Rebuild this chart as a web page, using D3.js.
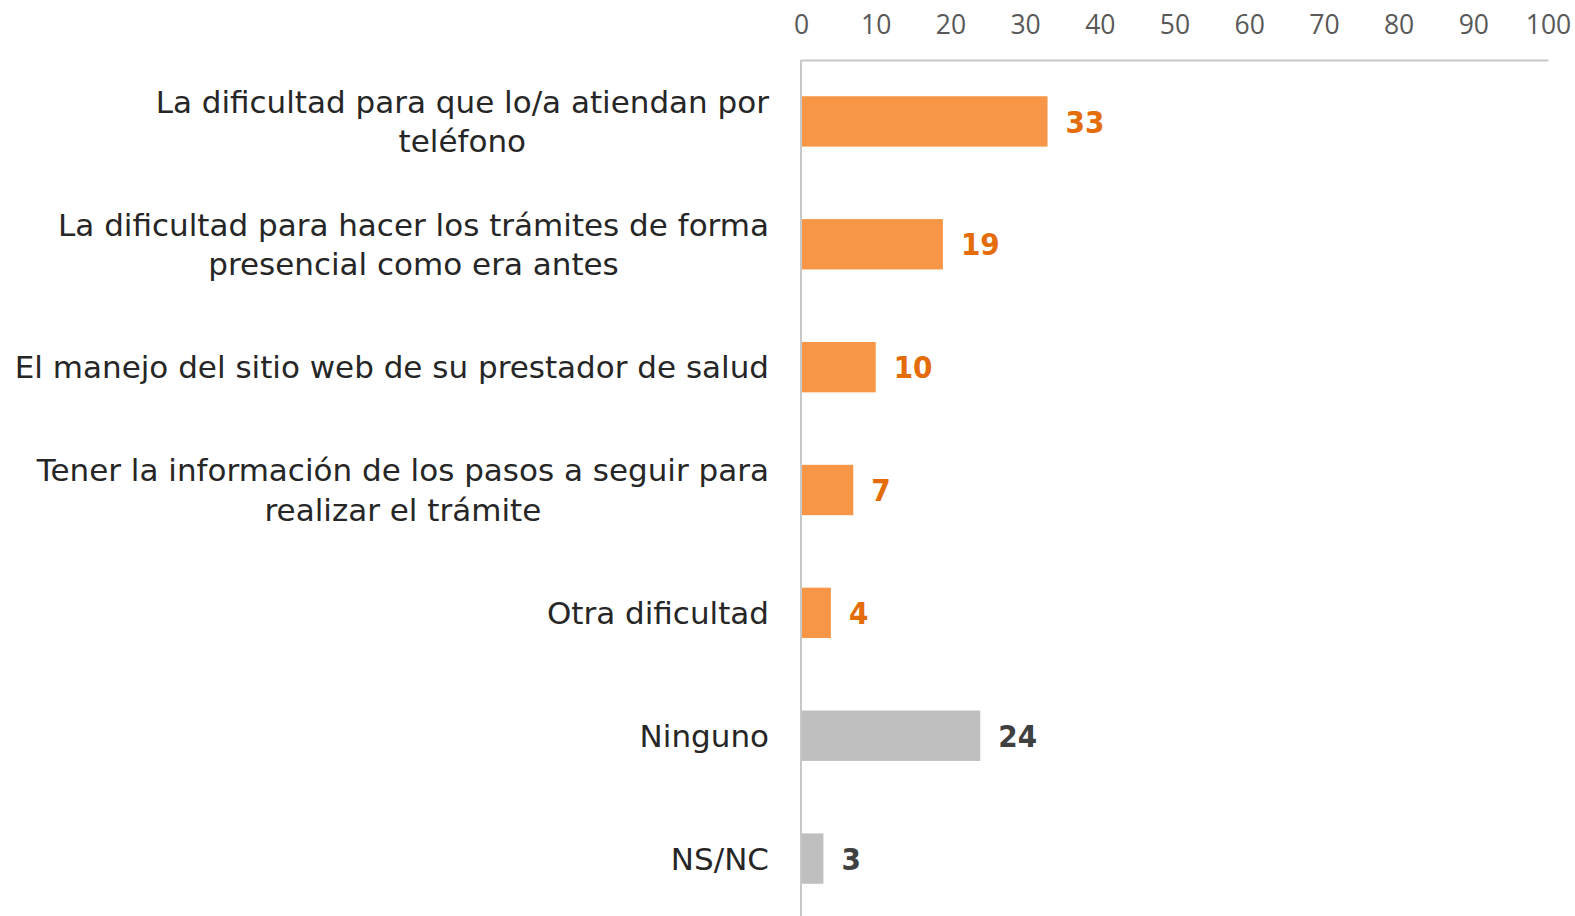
<!DOCTYPE html>
<meta charset="utf-8">
<head>
  <title>Dificultades</title>
  <script src="https://d3js.org/d3.v7.min.js"></script>
  <style>
    body { margin: 0; background: #fff; }
    text { font-family: "DejaVu Sans Condensed", "DejaVu Sans", sans-serif; }
  </style>
</head>
<body>
  <svg id="chart" width="1575" height="916"></svg>
  <script>
    const categories = [
      ["La dificultad para que lo/a atiendan por", "teléfono"],
      ["La dificultad para hacer los trámites de forma", "presencial como era antes"],
      ["El manejo del sitio web de su prestador de salud"],
      ["Tener la información de los pasos a seguir para", "realizar el trámite"],
      ["Otra dificultad"],
      ["Ninguno"],
      ["NS/NC"]
    ];
    const values = [33, 19, 10, 7, 4, 24, 3];
    const isGray = [false, false, false, false, false, true, true];
    const xTicks = [0, 10, 20, 30, 40, 50, 60, 70, 80, 90, 100];

    const svg = d3.select("#chart");
    const plotLeft = 801, plotRight = 1548, plotTop = 60, plotBottom = 920;

    const x = d3.scaleLinear().domain([0, 100]).range([plotLeft, plotRight]);
    const y = d3.scaleBand().domain(d3.range(values.length)).range([plotTop, plotBottom]).paddingInner(0.59).paddingOuter(0.295);

    // top axis
    const xAxis = svg.append("g")
      .attr("transform", "translate(0," + plotTop + ")")
      .call(d3.axisTop(x).tickValues(xTicks).tickSize(0).tickPadding(26));
    xAxis.select(".domain").attr("stroke", "#c8c8c8").attr("stroke-width", 2);
    xAxis.selectAll("text")
      .attr("font-size", 26.5)
      .attr("fill", "#595959")
      .style("font-family", "'Open Sans', sans-serif");

    // left axis line
    svg.append("line")
      .attr("x1", plotLeft).attr("x2", plotLeft)
      .attr("y1", plotTop).attr("y2", 916)
      .attr("stroke", "#c8c8c8").attr("stroke-width", 2);

    svg.append("g").selectAll("rect")
      .data(values)
      .join("rect")
        .attr("x", plotLeft + 1)
        .attr("y", (d, i) => y(i))
        .attr("width", d => x(d) - plotLeft - 1)
        .attr("height", y.bandwidth())
        .attr("fill", (d, i) => isGray[i] ? "#bfbfbf" : "#f79646");

    svg.append("g").selectAll("text")
      .data(values)
      .join("text")
        .attr("x", d => x(d) + 18)
        .attr("y", (d, i) => y(i) + y.bandwidth() / 2)
        .attr("dy", "0.36em")
        .attr("font-size", 31)
        .attr("font-weight", "bold")
        .attr("fill", (d, i) => isGray[i] ? "#404040" : "#e46c0a")
        .text(d => d);

    // category labels, wrapped lines centered on the widest line, block right-aligned
    const labelRight = 769, lineH = 39.5;
    categories.forEach((lines, i) => {
      const cy = y(i) + y.bandwidth() / 2;
      const g = svg.append("g");
      const t = g.selectAll("text")
        .data(lines)
        .join("text")
          .attr("y", (d, j) => cy + (j - (lines.length - 1) / 2) * lineH)
          .attr("dy", "0.36em")
          .attr("font-size", 31)
          .attr("fill", "#262626")
          .attr("text-anchor", "middle")
          .style("font-family", "'DejaVu Sans', sans-serif")
          .text(d => d);
      let w = 0;
      t.each(function () { w = Math.max(w, this.getComputedTextLength()); });
      t.attr("x", labelRight - w / 2);
    });
  </script>
</body>
